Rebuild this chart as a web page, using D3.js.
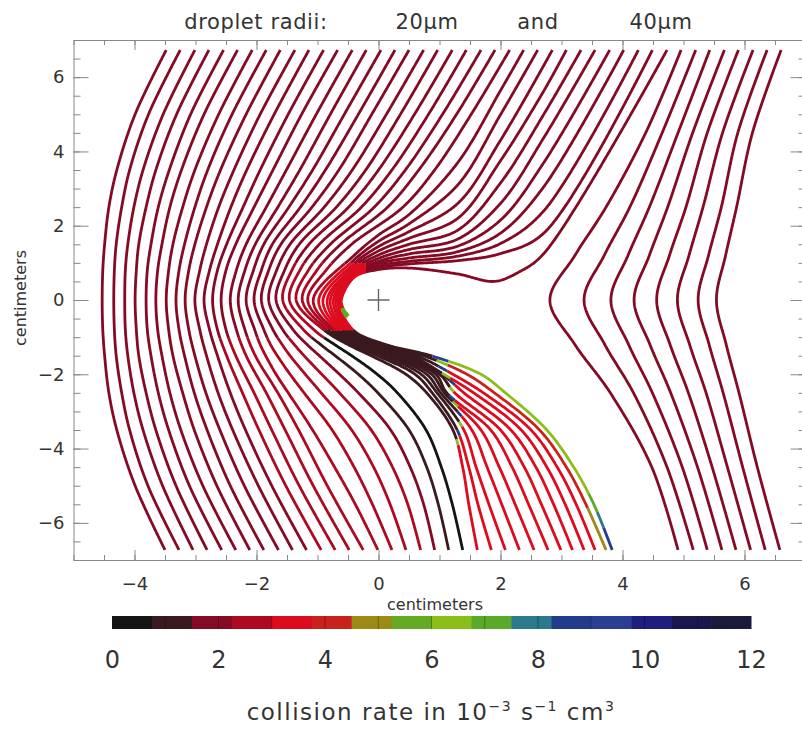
<!DOCTYPE html>
<html>
<head>
<meta charset="utf-8">
<script src="https://cdn.jsdelivr.net/npm/d3@7"></script>
<style>
  body { margin: 0; background: #fff; }
  text { font-family: "DejaVu Sans", "Liberation Sans", sans-serif; fill: #333; }
</style>
</head>
<body>
<div id="chart"></div>
<script>
// trajectories of the small droplet, in cm; lines enter at the top and leave at the bottom
const yTop = 6.73, yBottom = -6.73;

// x where each trajectory starts (top), 36 left-family lines then 8 right-family lines
const startX = [-3.48, -3.25, -3.01, -2.78, -2.54, -2.31, -2.07, -1.84, -1.61, -1.37, -1.14, -0.90,
  -0.67, -0.43, -0.20, 0.04, 0.27, 0.50, 0.74, 0.97, 1.21, 1.44, 1.68, 1.91, 2.15, 2.38, 2.61, 2.85,
  3.08, 3.32, 3.55, 3.79, 4.02, 4.26, 4.49, 4.73,
  4.96, 5.20, 5.43, 5.67, 5.90, 6.14, 6.37, 6.60];

// x where each trajectory crosses y = 0
const noseX = [-4.53, -4.34, -4.16, -3.99, -3.81, -3.65, -3.48, -3.32, -3.17, -3.01, -2.86, -2.72,
  -2.58, -2.43, -2.30, -2.17, -2.04, -1.92, -1.80, -1.68, -1.57, -1.46, -1.35, -1.25, -1.16, -1.07,
  -0.98, -0.91, -0.84, -0.79, -0.74, -0.70, -0.66, -0.64, -0.62, -0.61,
  2.81, 3.37, 3.81, 4.19, 4.56, 4.90, 5.24, 5.54];

// x where each trajectory leaves at the bottom (null: ends on the collector)
const endX = [-3.50, -3.27, -3.04, -2.81, -2.57, -2.34, -2.11, -1.88, -1.64, -1.41, -1.18, -0.94,
  -0.71, -0.48, -0.25, -0.01, 0.22, 0.45, 0.69, 0.92, 1.15, 1.38, 1.62, 1.85, 2.08, 2.31, 2.55, 2.78,
  2.99, 3.18, 3.37, 3.55, 3.73, 3.83, null, null,
  4.91, 5.16, 5.39, 5.63, 5.86, 6.10, 6.34, 6.58];

// upper half, lines 0-24
const upperY = [5.0, 3.5, 2.5, 1.5, 0.8];
const upperX = [
  [-3.99, -4.29, -4.42, -4.49, -4.52], [-3.77, -4.08, -4.21, -4.30, -4.33],
  [-3.53, -3.86, -4.01, -4.11, -4.15], [-3.31, -3.65, -3.81, -3.93, -3.97],
  [-3.08, -3.43, -3.61, -3.73, -3.79], [-2.86, -3.23, -3.42, -3.55, -3.62],
  [-2.62, -3.01, -3.21, -3.37, -3.44], [-2.40, -2.80, -3.01, -3.18, -3.27],
  [-2.17, -2.59, -2.82, -3.01, -3.11], [-1.94, -2.37, -2.62, -2.82, -2.93],
  [-1.71, -2.16, -2.42, -2.64, -2.77], [-1.48, -1.94, -2.22, -2.49, -2.64],
  [-1.26, -1.73, -2.04, -2.34, -2.50], [-1.02, -1.51, -1.84, -2.17, -2.33],
  [-0.79, -1.29, -1.65, -2.02, -2.19], [-0.56, -1.08, -1.47, -1.88, -2.05],
  [-0.33, -0.87, -1.28, -1.74, -1.92], [-0.11, -0.65, -1.09, -1.60, -1.80],
  [0.13, -0.43, -0.89, -1.45, -1.67], [0.36, -0.21, -0.69, -1.30, -1.54],
  [0.59, 0.00, -0.49, -1.14, -1.42], [0.82, 0.22, -0.28, -0.97, -1.29],
  [1.05, 0.44, -0.07, -0.79, -1.15], [1.28, 0.66, 0.15, -0.62, -1.01],
  [1.52, 0.92, 0.40, -0.44, -0.86]
];

// upper half, lines 25-35: they sweep over the collector
const bundleUpper = [
  [[2.0, 5.64], [1.3, 3.7], [0.5, 2.3], [0, 1.75], [-0.4, 1.2]],
  [[2.0, 4.99], [1.3, 3.1], [0.5, 2.05], [0, 1.58], [-0.4, 1.08]],
  [[2.0, 4.3], [1.3, 2.6], [0.5, 1.84], [0, 1.44], [-0.4, 0.98]],
  [[2.71, 5.63], [2.0, 3.75], [1.3, 2.2], [0.5, 1.66], [0, 1.32], [-0.4, 0.90]],
  [[2.71, 5.0], [2.0, 3.15], [1.3, 1.88], [0.5, 1.50], [0, 1.21], [-0.4, 0.83]],
  [[2.71, 4.37], [2.0, 2.6], [1.3, 1.64], [0.5, 1.36], [0, 1.12], [-0.4, 0.77]],
  [[2.71, 3.70], [2.0, 2.15], [1.3, 1.45], [0.5, 1.24], [0, 1.04], [-0.4, 0.72]],
  [[2.71, 3.05], [2.0, 1.80], [1.3, 1.30], [0.5, 1.13], [0, 0.98], [-0.4, 0.68]],
  [[2.71, 2.40], [2.0, 1.52], [1.3, 1.18], [0.5, 1.04], [0, 0.92], [-0.4, 0.65]],
  [[2.71, 1.80], [2.0, 1.25], [1.3, 1.06], [0.5, 0.97], [0, 0.87], [-0.4, 0.63]],
  [[2.71, 1.25], [2.3, 0.75], [1.9, 0.50], [1.3, 0.70], [0.5, 0.86], [0, 0.82], [-0.4, 0.61]]
];

// lower half, lines 0-14
const lowerY = [-0.8, -1.5, -2.5, -3.5, -5.0];
const lowerX = [
  [-4.52, -4.49, -4.42, -4.29, -3.99], [-4.33, -4.30, -4.21, -4.08, -3.78],
  [-4.15, -4.11, -4.01, -3.86, -3.54], [-3.97, -3.93, -3.81, -3.65, -3.32],
  [-3.79, -3.73, -3.61, -3.44, -3.10], [-3.62, -3.55, -3.42, -3.24, -2.88],
  [-3.44, -3.37, -3.21, -3.02, -2.65], [-3.27, -3.18, -3.02, -2.81, -2.43],
  [-3.11, -3.01, -2.83, -2.60, -2.20], [-2.93, -2.82, -2.63, -2.39, -1.97],
  [-2.77, -2.64, -2.43, -2.18, -1.75], [-2.64, -2.49, -2.23, -1.96, -1.52],
  [-2.50, -2.34, -2.04, -1.75, -1.30], [-2.33, -2.17, -1.84, -1.53, -1.07],
  [-2.19, -2.02, -1.65, -1.31, -0.84]
];

// lower half, lines 15-33: the fan that opens below the S-shaped edge
const fanY = [-0.8, -1.2, -1.5, -2.0, -2.5, -3.5, -4.5, -5.5];
const fanX = [
  [-2.03, -1.94, -1.85, -1.68, -1.48, -1.08, -0.72, -0.38],
  [-1.88, -1.77, -1.66, -1.45, -1.22, -0.76, -0.40, -0.10],
  [-1.73, -1.58, -1.45, -1.20, -0.94, -0.44, -0.08, 0.19],
  [-1.57, -1.38, -1.22, -0.93, -0.64, -0.12, 0.23, 0.48],
  [-1.40, -1.17, -0.97, -0.64, -0.33, 0.20, 0.52, 0.74],
  [-1.23, -0.95, -0.71, -0.33, -0.01, 0.50, 0.79, 0.98],
  [-1.06, -0.72, -0.44, -0.02, 0.31, 0.78, 1.03, 1.21],
  [-0.90, -0.50, -0.12, 0.45, 0.79, 1.22, 1.38, 1.48],
  [-0.84, -0.44, -0.02, 0.60, 0.88, 1.29, 1.48, 1.63],
  [-0.78, -0.38, 0.07, 0.70, 0.96, 1.40, 1.60, 1.81],
  [-0.73, -0.32, 0.16, 0.79, 1.02, 1.53, 1.78, 2.02],
  [-0.68, -0.26, 0.24, 0.87, 1.08, 1.68, 1.98, 2.24],
  [-0.63, -0.20, 0.32, 0.94, 1.12, 1.84, 2.19, 2.46],
  [-0.59, -0.14, 0.40, 1.00, 1.25, 2.00, 2.39, 2.67],
  [-0.55, -0.08, 0.47, 1.04, 1.40, 2.17, 2.58, 2.87],
  [-0.51, -0.02, 0.55, 1.07, 1.56, 2.34, 2.76, 3.06],
  [-0.48, 0.03, 0.63, 1.22, 1.72, 2.50, 2.93, 3.24],
  [-0.45, 0.08, 0.74, 1.45, 1.90, 2.64, 3.08, 3.40],
  [-0.42, 0.12, 0.86, 1.68, 2.08, 2.76, 3.20, 3.53]
];

// lines 34-35 end on the collector surface
const collectorEnd = [
  [[-0.60, -0.25], [-0.52, -0.48]],
  [[-0.58, -0.22], [-0.49, -0.43]]
];

// right family
const rightY = [4.5, 2.5, 1.2, -1.2, -2.5, -4.5];
const rightX = [
  [4.38, 3.73, 3.22, 3.22, 3.80, 4.48],
  [4.65, 4.12, 3.70, 3.71, 4.18, 4.73],
  [4.91, 4.44, 4.09, 4.10, 4.49, 4.98],
  [5.15, 4.74, 4.44, 4.45, 4.79, 5.23],
  [5.39, 5.04, 4.77, 4.78, 5.08, 5.47],
  [5.64, 5.32, 5.09, 5.10, 5.37, 5.72],
  [5.89, 5.62, 5.41, 5.42, 5.65, 5.97],
  [6.13, 5.87, 5.69, 5.70, 5.91, 6.21]
];

// collision rate (10^-3 s^-1 cm^3) along the left lines
const farRate = 1.9;
const noseRate = [1.9, 1.9, 1.9, 1.9, 1.9, 1.9, 1.9, 1.9, 1.9, 1.9, 1.9, 1.9, 1.9, 1.9, 1.9, 1.9,
  1.9, 1.9, 1.9, 1.9, 2.6, 2.6, 2.6, 2.6, 2.6, 2.6, 3.4, 3.4, 3.4, 3.4, 3.4, 3.4, 3.4, 3.4, 3.4, 3.4];
const lowerRate = [1.9, 1.9, 1.9, 1.9, 1.9, 1.9, 1.9, 1.9, 1.9, 1.9, 1.9, 2.6, 2.6, 2.6, 2.6, 2.6,
  2.6, 2.6, 2.6, 1.9, 1.1, 0.4, 3.4, 3.4, 3.4, 3.4, 3.4, 3.4, 3.4, 3.4, 3.4, 3.4, 4.1, 6.3, 5.8, 5.8];
const darkRate = 1.1;
const switchY = [null, null, null, null, null, null, null, null, null, null, null, null, null, null,
  null, null, null, null, null, null, null, null, -3.75, -3.50, -3.26, -2.99, -2.72, -2.56, -2.32,
  -2.15, -1.97, -1.78, -1.62, -1.51, null, null];
const flashRate = [6.3, 8.6];
const tailStops = { 32: [[-5.6, 4.8]], 33: [[-5.2, 7.2], [-5.7, 7.9], [-6.1, 8.6]] };

// colour bar
const barColors = ['#141414', '#3a1a1e', '#850a24', '#ad0a22', '#dc0c1e', '#c8221c', '#9c8a14', '#64aa22',
  '#8cbe1a', '#5aaa2a', '#2a7a8c', '#203c8a', '#2a3e92', '#1e1e7e', '#1c164f', '#1b1a38'];
const barTicks = [0, 2, 4, 6, 8, 10, 12];
const xMajor = [-4, -2, 0, 2, 4, 6];
const yMajor = [-6, -4, -2, 0, 2, 4, 6];

const width = 802, height = 729;
const x = d3.scaleLinear().domain([-5, 7]).range([73.5, 805.5]);
const y = d3.scaleLinear().domain([-7, 7]).range([560, 40]);
const rateColor = d3.scaleQuantize().domain([0, 12]).range(barColors);

function leftTrajectory(i) {
  const pts = [[startX[i], yTop]];
  if (i < 25) upperY.forEach((v, k) => pts.push([upperX[i][k], v]));
  else bundleUpper[i - 25].forEach(p => pts.push(p));
  pts.push([noseX[i], 0]);
  if (i < 15) lowerY.forEach((v, k) => pts.push([lowerX[i][k], v]));
  else if (i < 34) fanY.forEach((v, k) => pts.push([fanX[i - 15][k], v]));
  else collectorEnd[i - 34].forEach(p => pts.push(p));
  if (endX[i] !== null) pts.push([endX[i], yBottom]);
  return pts;
}

function rightTrajectory(j) {
  const pts = [[startX[36 + j], yTop]];
  rightY.slice(0, 3).forEach((v, k) => pts.push([rightX[j][k], v]));
  pts.push([noseX[36 + j], 0]);
  rightY.slice(3).forEach((v, k) => pts.push([rightX[j][k + 3], v]));
  pts.push([endX[36 + j], yBottom]);
  return pts;
}

function rateAt(i, px, py) {
  if (i >= 36) return farRate;
  if (py >= 0) return (py < 1.0 && px < -0.2) ? noseRate[i] : farRate;
  if (i >= 34) return py < -0.2 ? lowerRate[i] : noseRate[i];
  const sw = switchY[i];
  let r;
  if (sw === null) r = py > -1.0 ? noseRate[i] : lowerRate[i];
  else if (py > -0.8) r = noseRate[i];
  else if (py > sw) r = darkRate;
  else if (py > sw - 0.13) r = i === 33 ? 9.0 : flashRate[i % 2];
  else r = lowerRate[i];
  (tailStops[i] || []).forEach(s => { if (py < s[0]) r = s[1]; });
  return r;
}

const svg = d3.select('#chart').append('svg')
  .attr('width', width)
  .attr('height', height)
  .style('background', '#fff');

// trajectories, coloured piece by piece
const lineGen = d3.line().x(d => x(d[0])).y(d => y(d[1])).curve(d3.curveCatmullRom.alpha(0.5));
const tracks = [];
for (let i = 0; i < 36; i++) tracks.push({ id: i, pts: leftTrajectory(i) });
for (let j = 0; j < 8; j++) tracks.push({ id: 36 + j, pts: rightTrajectory(j) });

const gLines = svg.append('g');
const probe = svg.append('path').attr('fill', 'none');
tracks.forEach(t => {
  probe.attr('d', lineGen(t.pts));
  const node = probe.node();
  const len = node.getTotalLength();
  const n = Math.max(2, Math.ceil(len / 1.2));
  const runs = [];
  let cur = null;
  for (let k = 0; k <= n; k++) {
    const q = node.getPointAtLength(len * k / n);
    const c = rateColor(rateAt(t.id, x.invert(q.x), y.invert(q.y)));
    if (!cur || cur.c !== c) {
      if (cur) cur.pts.push([q.x, q.y]);
      cur = { c: c, pts: [[q.x, q.y]] };
      runs.push(cur);
    } else cur.pts.push([q.x, q.y]);
  }
  runs.forEach(r => {
    gLines.append('path')
      .attr('d', d3.line()(r.pts))
      .attr('fill', 'none')
      .attr('stroke', r.c)
      .attr('stroke-width', 2.8)
      .attr('stroke-linejoin', 'round');
  });
});
probe.remove();

// frame and ticks
const axisColor = '#888';
function styleAxis(g) {
  g.selectAll('path.domain').attr('stroke', axisColor);
  g.selectAll('.tick line').attr('stroke', axisColor);
  g.selectAll('.tick text').style('font-size', '18px').attr('fill', '#333');
}
function minorAxis(axis, size) {
  return axis.ticks(axis.scale() === x ? 24 : 28).tickSize(-size).tickFormat('').tickSizeOuter(0);
}

const gb = svg.append('g').attr('transform', `translate(0,${y(-7)})`);
gb.call(d3.axisBottom(x).tickValues(xMajor).tickSize(-10).tickSizeOuter(0).tickPadding(17)).call(styleAxis);
gb.append('g').call(minorAxis(d3.axisBottom(x), 5)).call(styleAxis).select('.domain').remove();

const gt = svg.append('g').attr('transform', `translate(0,${y(7)})`);
gt.call(d3.axisTop(x).tickValues(xMajor).tickSize(-10).tickSizeOuter(0).tickFormat('')).call(styleAxis);
gt.append('g').call(minorAxis(d3.axisTop(x), 5)).call(styleAxis).select('.domain').remove();

const gl = svg.append('g').attr('transform', `translate(${x(-5)},0)`);
gl.call(d3.axisLeft(y).tickValues(yMajor).tickSize(-15).tickSizeOuter(0).tickPadding(9)).call(styleAxis);
gl.append('g').call(minorAxis(d3.axisLeft(y), 7)).call(styleAxis).select('.domain').remove();

const gr = svg.append('g').attr('transform', `translate(${x(7)},0)`);
gr.call(d3.axisRight(y).tickValues(yMajor).tickSize(-15).tickSizeOuter(0).tickFormat('')).call(styleAxis);
gr.append('g').call(minorAxis(d3.axisRight(y), 7)).call(styleAxis).select('.domain').remove();

// cross at the collector centre
const cx = x(0), cy = y(0);
svg.append('path')
  .attr('d', `M${cx - 11},${cy}H${cx + 11}M${cx},${cy - 11}V${cy + 11}`)
  .attr('stroke', '#666')
  .attr('stroke-width', 1.4);

// axis titles
svg.append('text').attr('x', 435).attr('y', 610).attr('text-anchor', 'middle')
  .style('font-size', '16px').text('centimeters');
svg.append('text').attr('transform', 'translate(26,298) rotate(-90)').attr('text-anchor', 'middle')
  .style('font-size', '16px').text('centimeters');

// title
const title = [['droplet radii:', 256], ['20\u03bcm', 427], ['and', 538], ['40\u03bcm', 661]];
svg.selectAll('text.title').data(title).enter().append('text')
  .attr('class', 'title')
  .attr('x', d => d[1]).attr('y', 29)
  .attr('text-anchor', 'middle')
  .style('font-size', '21px')
  .style('letter-spacing', '0.6px')
  .text(d => d[0]);

// colour bar
const cb = d3.scaleLinear().domain([0, 12]).range([112, 751]);
const step = 12 / barColors.length;
svg.append('g').selectAll('rect').data(barColors).enter().append('rect')
  .attr('x', (d, k) => cb(k * step))
  .attr('y', 616)
  .attr('width', cb(step) - cb(0) + 0.5)
  .attr('height', 13)
  .attr('fill', d => d);
svg.append('g').selectAll('line').data(d3.range(1, 12)).enter().append('line')
  .attr('x1', d => cb(d)).attr('x2', d => cb(d))
  .attr('y1', 616).attr('y2', 629)
  .attr('stroke', '#000').attr('stroke-opacity', 0.3);
const gc = svg.append('g').attr('transform', 'translate(0,629)');
gc.call(d3.axisBottom(cb).tickValues(barTicks).tickSize(0).tickPadding(22).tickFormat(d3.format('d')));
gc.select('.domain').remove();
gc.selectAll('text').style('font-size', '24px').attr('fill', '#333');

const cap = svg.append('text').attr('x', 431).attr('y', 720).attr('text-anchor', 'middle')
  .style('font-size', '23px').style('letter-spacing', '1.5px');
cap.append('tspan').text('collision rate in 10');
cap.append('tspan').attr('dy', -9).style('font-size', '14px').text('\u22123');
cap.append('tspan').attr('dy', 9).text(' s');
cap.append('tspan').attr('dy', -9).style('font-size', '14px').text('\u22121');
cap.append('tspan').attr('dy', 9).text(' cm');
cap.append('tspan').attr('dy', -9).style('font-size', '14px').text('3');
</script>
</body>
</html>
